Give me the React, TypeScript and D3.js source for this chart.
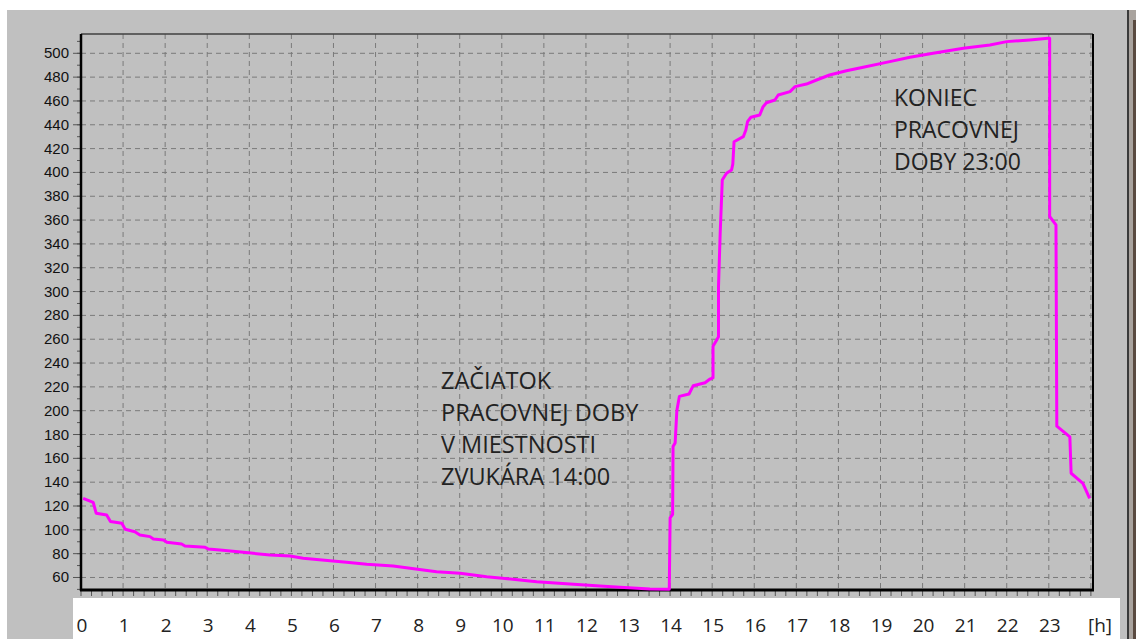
import React from "react";
import * as d3 from "d3";

const W = 1136;
const H = 639;

const hours: number[] = [
  0.05, 0.29, 0.36, 0.61, 0.7, 0.97, 1.05, 1.28, 1.4, 1.64, 1.72, 1.96, 2.04, 2.39, 2.47, 2.95, 3.02,
  3.3, 3.86, 4.49, 4.97, 5.28, 5.92, 6.31, 6.79, 7.42, 7.82, 8.45, 9.01, 9.64, 10.43, 10.83, 11.62,
  12.33, 12.81, 13.52, 13.98, 14.0, 14.06, 14.07, 14.12, 14.16, 14.22, 14.45, 14.55, 14.83, 14.94,
  15.02, 15.02, 15.11, 15.15, 15.15, 15.19, 15.24, 15.34, 15.46, 15.49, 15.52, 15.74, 15.8, 15.84,
  15.92, 16.13, 16.21, 16.29, 16.49, 16.57, 16.85, 16.97, 17.24, 17.48, 17.79, 18.19, 18.59, 19.22,
  19.7, 20.25, 20.97, 21.6, 22.0, 22.55, 22.98, 23.02, 23.02, 23.17, 23.19, 23.5, 23.53, 23.81, 23.97,
];
const values: number[] = [
  126.5, 123, 114, 112.5, 107, 105.5, 100.5, 98.4, 95.7, 94.3, 92.3, 91.5, 89.5, 88.1, 86.4, 85.3, 84,
  83.1, 81.1, 78.9, 78, 76.1, 74.1, 72.8, 71.1, 69.7, 67.7, 64.9, 63.5, 60.7, 57.9, 56.5, 54.5,
  52.9, 51.8, 50.3, 50.2, 110, 113, 170, 173, 200, 212, 214, 221, 223.5, 226.4,
  227.5, 254, 259.5, 262, 304, 349, 393.6, 399.3, 402, 407, 425.8, 430, 435.6, 442.6,
  446.3, 448.2, 455.2, 458.5, 460.8, 465, 467.8, 472, 474.2, 477.6, 481.8, 485.4, 488.3, 493,
  496.7, 500, 504.2, 507, 509.8, 511.2, 512.6, 512.6, 363, 356, 187, 178, 147.5, 139, 126.5,
];

const xTickLabels: string[] = Array.from({ length: 24 }, (_, i) => String(i));
const yTicks: number[] = d3.range(60, 501, 20);
const annotStart: string[] = ["ZAČIATOK", "PRACOVNEJ DOBY", "V MIESTNOSTI", "ZVUKÁRA 14:00"];
const annotEnd: string[] = ["KONIEC", "PRACOVNEJ", "DOBY 23:00"];

export default function App() {
  const left = 81, right = 1093, top = 34, bottom = 590;
  const x = d3.scaleLinear().domain([0, 24.05]).range([left, right]);
  const y = d3.scaleLinear().domain([49.5, 516.2]).range([bottom, top]);
  const pts: [number, number][] = hours.map((h, i) => [h, values[i]]);
  const line = d3
    .line<[number, number]>()
    .x((d) => x(d[0]))
    .y((d) => y(d[1]));

  const vGrid = d3.range(1, 25);
  const quarter = d3.range(0, 24.05, 0.25);
  const yMinor = d3.range(50, 516, 10);
  const gridColor = "#7a7a7a";
  const textColor = "#222";

  return (
    <div style={{ position: "absolute", left: 0, top: 0 }}>
      <svg width={W} height={H} style={{ display: "block" }}>
        <rect x={0} y={0} width={W} height={H} fill="#ffffff" />
        <rect x={7} y={10} width={1120} height={H - 10} fill="#c0c0c0" />
        <rect x={1127} y={10} width={2} height={H - 10} fill="#3a3a3a" />
        <rect x={1129} y={10} width={7} height={H - 10} fill="#a9a39e" />
        <rect x={1133} y={20} width={3} height={H - 20} fill="#5a4a40" />
        <rect x={73} y={598} width={1047} height={41} fill="#ffffff" />

        {/* grid */}
        {yTicks.map((v) => (
          <line key={"hg" + v} x1={left} x2={right} y1={y(v)} y2={y(v)} stroke={gridColor} strokeWidth={1} strokeDasharray="5,4" />
        ))}
        {vGrid.map((h) => (
          <line key={"vg" + h} x1={x(h)} x2={x(h)} y1={top} y2={bottom} stroke={gridColor} strokeWidth={1} strokeDasharray="5,4" />
        ))}

        {/* y ticks */}
        {yTicks.map((v) => (
          <line key={"yt" + v} x1={73} x2={left} y1={y(v)} y2={y(v)} stroke="#555" strokeWidth={1} />
        ))}
        {yMinor.map((v) => (
          <line key={"ym" + v} x1={77} x2={left} y1={y(v)} y2={y(v)} stroke="#555" strokeWidth={1} />
        ))}
        {yTicks.map((v) => (
          <text key={"yl" + v} x={69} y={y(v) + 5} textAnchor="end" fontFamily="'Liberation Sans', Arial, sans-serif" fontSize={15} fill="#111">
            {v}
          </text>
        ))}

        {/* x minor ticks */}
        {quarter.map((h) => (
          <line key={"xt" + h} x1={x(h)} x2={x(h)} y1={bottom} y2={bottom + 6} stroke="#555" strokeWidth={1} />
        ))}

        {/* frame */}
        <line x1={left} x2={right} y1={top} y2={top} stroke="#404040" strokeWidth={1.5} />
        <line x1={right} x2={right} y1={top} y2={bottom} stroke="#000" strokeWidth={2} />
        <line x1={left} x2={left} y1={top} y2={bottom + 1} stroke="#000" strokeWidth={2.5} />
        <line x1={left - 1} x2={right + 1} y1={bottom} y2={bottom} stroke="#000" strokeWidth={3} />

        {/* data line */}
        <path d={line(pts) || ""} fill="none" stroke="#ff00ff" strokeWidth={3} strokeLinejoin="round" />

        {/* annotations */}
        {annotStart.map((t, i) => (
          <text key={"as" + i} x={441} y={389 + i * 32} fontFamily="'Open Sans', 'Noto Sans', sans-serif" fontSize={23.5} fill={textColor}>
            {t}
          </text>
        ))}
        {annotEnd.map((t, i) => (
          <text key={"ae" + i} x={894} y={106 + i * 32} fontFamily="'Open Sans', 'Noto Sans', sans-serif" fontSize={23} fill={textColor}>
            {t}
          </text>
        ))}

        {/* x labels */}
        {xTickLabels.map((t, i) => (
          <text key={"xl" + i} x={x(i) + 1} y={632} textAnchor="middle" fontFamily="'Open Sans', 'Noto Sans', sans-serif" fontSize={19} fill={textColor}>
            {t}
          </text>
        ))}
        <text x={1100} y={632} textAnchor="middle" fontFamily="'Open Sans', 'Noto Sans', sans-serif" fontSize={19} fill={textColor}>
          [h]
        </text>
      </svg>
    </div>
  );
}
